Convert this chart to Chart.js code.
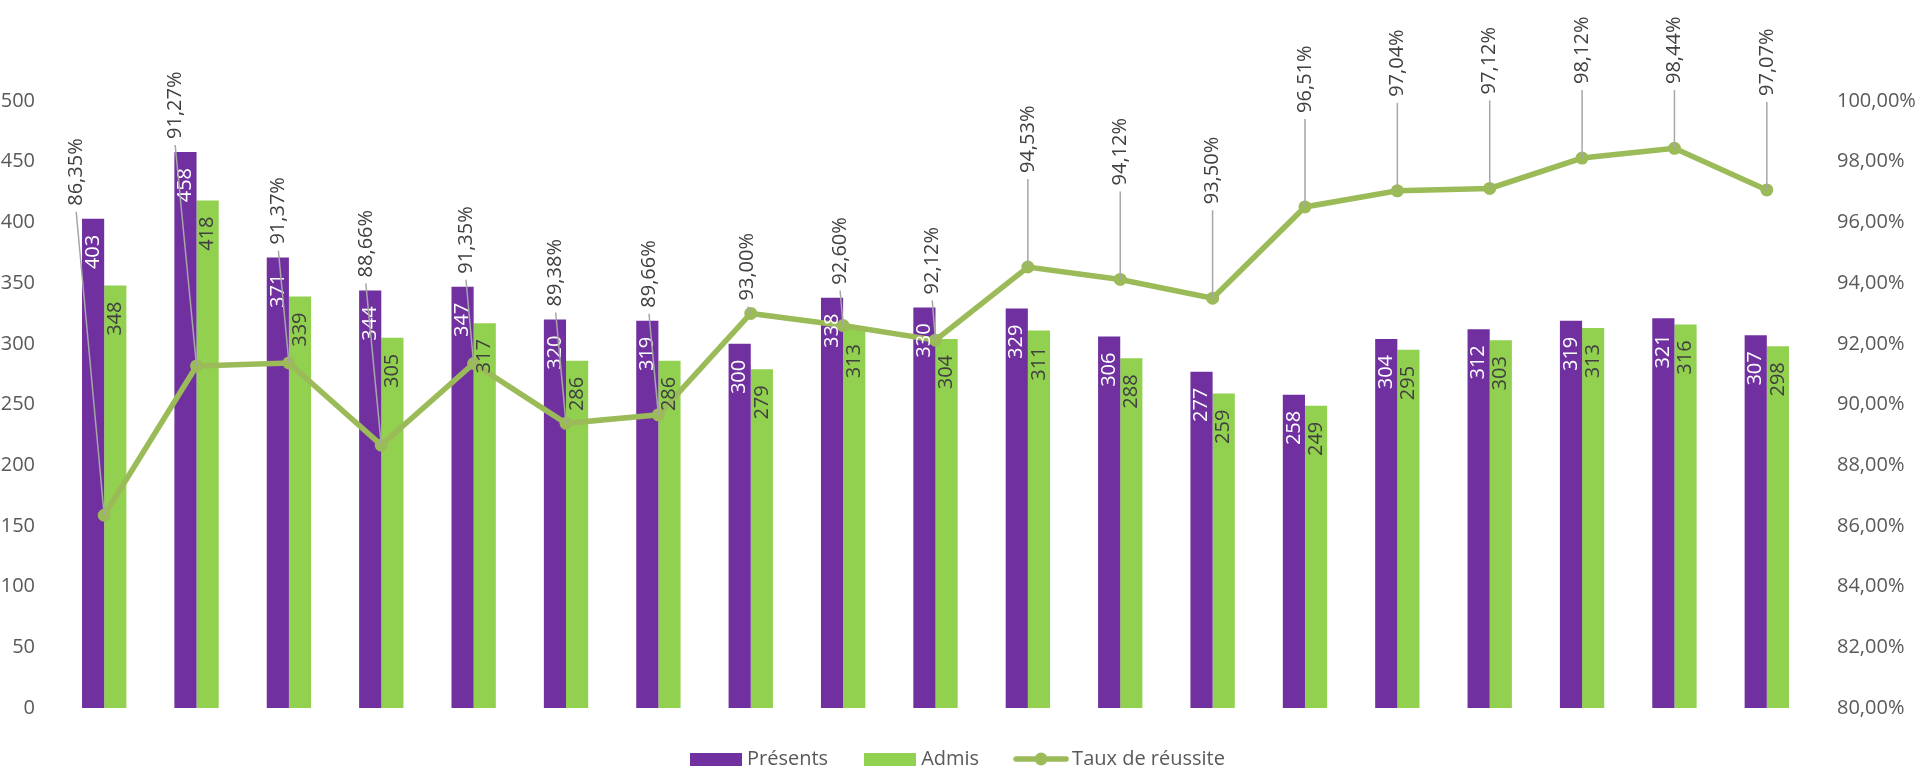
<!DOCTYPE html>
<html>
<head>
<meta charset="utf-8">
<script src="https://cdn.jsdelivr.net/npm/chart.js@4.4.1/dist/chart.umd.min.js"></script>
<style>
  html, body { margin: 0; padding: 0; background: #fff; }
  #wrap { width: 1920px; height: 770px; position: relative; }
</style>
</head>
<body>
<div id="wrap"><canvas id="myChart"></canvas></div>
<script>
// categories are not labelled on the chart
var categories = ['', '', '', '', '', '', '', '', '', '', '', '', '', '', '', '', '', '', ''];
var presents = [403, 458, 371, 344, 347, 320, 319, 300, 338, 330, 329, 306, 277, 258, 304, 312, 319, 321, 307];
var admis = [348, 418, 339, 305, 317, 286, 286, 279, 313, 304, 311, 288, 259, 249, 295, 303, 313, 316, 298];
var taux = [86.35, 91.27, 91.37, 88.66, 91.35, 89.38, 89.66, 93.00, 92.60, 92.12, 94.53, 94.12, 93.50, 96.51, 97.04, 97.12, 98.12, 98.44, 97.07];

var violet = '#7030A0';
var vert = '#92D050';
var olive = '#9BBB59';
var texte = '#595959';
var FONT = '"Open Sans", "DejaVu Sans", sans-serif';

function pct(v) {
    return v.toFixed(2).replace('.', ',') + '%';
}

function legendIcon(kind, color) {
    var c = document.createElement('canvas');
    if (kind === 'bar') {
        c.width = 52; c.height = 14;
        var g = c.getContext('2d');
        g.fillStyle = color;
        g.fillRect(0, 1, 52, 13);
    } else {
        c.width = 56; c.height = 14;
        var g = c.getContext('2d');
        g.strokeStyle = color;
        g.lineWidth = 5.5;
        g.lineCap = 'round';
        g.beginPath(); g.moveTo(3, 7); g.lineTo(53, 7); g.stroke();
        g.fillStyle = color;
        g.beginPath(); g.arc(28, 7, 6.5, 0, 2 * Math.PI); g.fill();
    }
    return c;
}
var icons = [legendIcon('bar', violet), legendIcon('bar', vert), legendIcon('line', olive)];

// rotated value labels + leader lines for the rate
var valueLabels = {
    id: 'valueLabels',
    afterDatasetsDraw: function(chart) {
        var ctx = chart.ctx;
        ctx.save();
        ctx.font = '20px ' + FONT;
        [0, 1].forEach(function(di) {
            var meta = chart.getDatasetMeta(di);
            meta.data.forEach(function(bar, i) {
                ctx.save();
                ctx.translate(bar.x, bar.y + 16);
                ctx.rotate(-Math.PI / 2);
                ctx.fillStyle = di === 0 ? '#FFFFFF' : '#404040';
                ctx.textAlign = 'right';
                ctx.textBaseline = 'middle';
                ctx.fillText(String(chart.data.datasets[di].data[i]), 0, 0);
                ctx.restore();
            });
        });

        var bars = chart.getDatasetMeta(0).data;
        var pts = chart.getDatasetMeta(2).data;
        pts.forEach(function(pt, i) {
            var barTop = bars[i].y;
            var ax, ay;
            if (pt.y < barTop - 35) {
                ax = pt.x;
                ay = Math.max(pt.y - 88, 90);
            } else {
                var diff = pt.y - barTop;
                ax = pt.x - Math.max(3, Math.min(28, diff * 0.1));
                ay = Math.min(pt.y, barTop) - 7;
            }
            ctx.strokeStyle = '#A6A6A6';
            ctx.lineWidth = 1.5;
            ctx.beginPath();
            ctx.moveTo(ax, ay);
            ctx.lineTo(pt.x, pt.y);
            ctx.stroke();

            ctx.save();
            ctx.translate(ax, ay - 6);
            ctx.rotate(-Math.PI / 2);
            ctx.fillStyle = '#404040';
            ctx.textAlign = 'left';
            ctx.textBaseline = 'middle';
            ctx.fillText(pct(taux[i]), 0, 0);
            ctx.restore();
        });
        ctx.restore();
    }
};

var ctx = document.getElementById('myChart').getContext('2d');
var chart = new Chart(ctx, {
    type: 'bar',
    data: {
        labels: categories,
        datasets: [{
            label: 'Présents',
            data: presents,
            backgroundColor: violet,
            yAxisID: 'y',
            order: 1
        }, {
            label: 'Admis',
            data: admis,
            backgroundColor: vert,
            yAxisID: 'y',
            order: 1
        }, {
            label: 'Taux de réussite',
            data: taux,
            type: 'line',
            yAxisID: 'y1',
            borderColor: olive,
            backgroundColor: olive,
            borderWidth: 5.5,
            pointRadius: 6.5,
            pointBackgroundColor: olive,
            pointBorderWidth: 0,
            tension: 0,
            order: 0
        }]
    },
    options: {
        responsive: true,
        maintainAspectRatio: false,
        animation: false,
        devicePixelRatio: 1,
        layout: { padding: { top: 101, bottom: -9, left: 0, right: 0 } },
        datasets: {
            bar: { categoryPercentage: 0.48, barPercentage: 1.0 }
        },
        scales: {
            x: {
                display: false,
                grid: { display: false }
            },
            y: {
                position: 'left',
                min: 0, max: 500,
                border: { display: false },
                grid: { display: false, drawTicks: false },
                ticks: { stepSize: 50, padding: 23, color: texte, font: { family: FONT, size: 20 } },
                afterFit: function(axis) { axis.width = 58; }
            },
            y1: {
                position: 'right',
                min: 80, max: 100,
                border: { display: false },
                grid: { display: false, drawTicks: false },
                ticks: {
                    stepSize: 2, padding: 24, color: texte, font: { family: FONT, size: 20 },
                    callback: function(v) { return pct(v); }
                },
                afterFit: function(axis) { axis.width = 107; }
            }
        },
        plugins: {
            tooltip: { enabled: false },
            legend: {
                position: 'bottom',
                labels: {
                    usePointStyle: true,
                    pointStyleWidth: 42,
                    boxHeight: 14,
                    padding: 41,
                    color: texte,
                    font: { family: FONT, size: 20 },
                    generateLabels: function(chart) {
                        return chart.data.datasets.map(function(ds, i) {
                            return {
                                text: ds.label,
                                pointStyle: icons[i],
                                fillStyle: 'transparent',
                                strokeStyle: 'transparent',
                                lineWidth: 0,
                                hidden: false,
                                datasetIndex: i,
                                fontColor: texte
                            };
                        });
                    }
                }
            }
        }
    },
    plugins: [valueLabels]
});
</script>
</body>
</html>
